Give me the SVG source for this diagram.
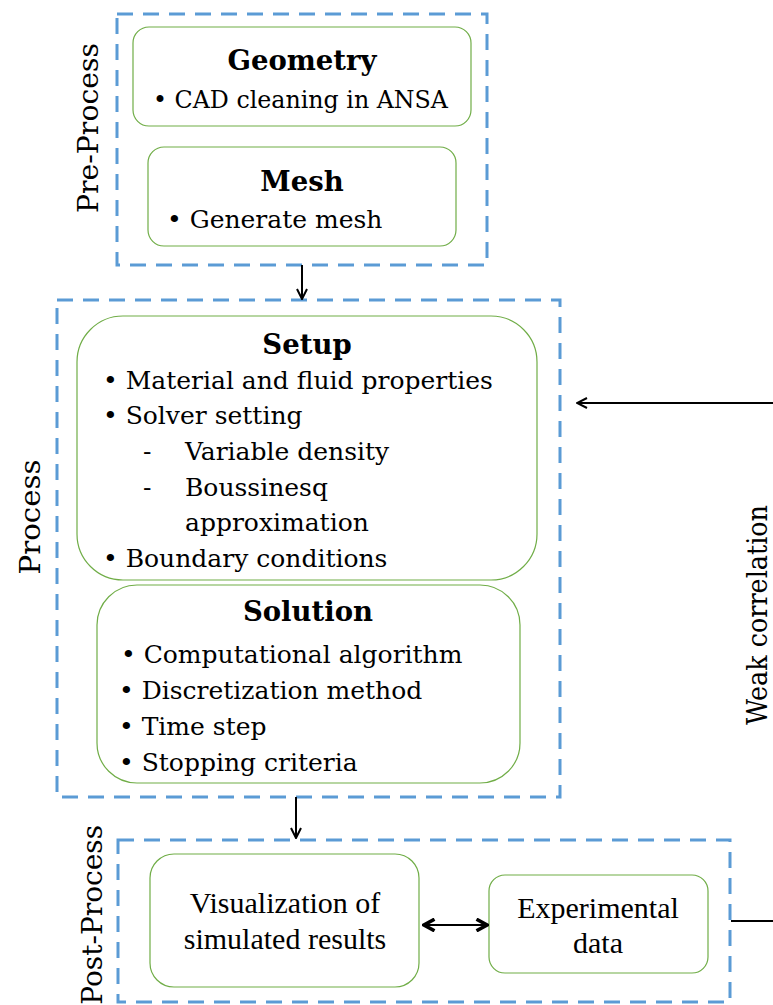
<svg xmlns="http://www.w3.org/2000/svg" width="773" height="1005" viewBox="0 0 773 1005">
<defs>
<style>
.grp{fill:none;stroke:#5B9BD5;stroke-width:3;stroke-dasharray:16 10}
.box{fill:#fff;stroke:#70AD47;stroke-width:1.2}
.t{font-family:"DejaVu Serif","Liberation Serif",serif;font-size:25px;fill:#000}
.h{font-family:"DejaVu Serif","Liberation Serif",serif;font-size:27.5px;font-weight:bold;fill:#000;text-anchor:middle}
.lab{font-family:"DejaVu Serif","Liberation Serif",serif;font-size:28px;fill:#000}
.pp{font-family:"Liberation Serif",serif;font-size:30px;fill:#000;text-anchor:middle}
.ln{fill:none;stroke:#000;stroke-width:2}
</style>
<marker id="ah" viewBox="0 0 12 12" refX="11" refY="6" markerWidth="12" markerHeight="12" markerUnits="userSpaceOnUse" orient="auto">
<path d="M1,1 L11,6 L1,11" fill="none" stroke="#000" stroke-width="2"/>
</marker>
<marker id="ah2" viewBox="0 0 12 12" refX="10" refY="6" markerWidth="14" markerHeight="14" markerUnits="userSpaceOnUse" orient="auto-start-reverse">
<path d="M1,1 L10,6 L1,11" fill="none" stroke="#000" stroke-width="3"/>
</marker>
</defs>

<g id="pre-process">
<rect class="grp" x="117" y="14" width="370" height="251"/>
<text class="lab" transform="translate(98,128) rotate(-90)" text-anchor="middle" textLength="170" lengthAdjust="spacingAndGlyphs">Pre-Process</text>
</g>
<g id="geometry">
<rect class="box" x="133" y="27" width="338" height="99" rx="16"/>
<text class="h" x="302" y="70">Geometry</text>
<text class="t" x="153" y="108" textLength="295" lengthAdjust="spacingAndGlyphs">• CAD cleaning in ANSA</text>
</g>
<g id="mesh">
<rect class="box" x="148" y="147" width="308" height="99" rx="16"/>
<text class="h" x="302" y="191">Mesh</text>
<text class="t" x="167" y="228">• Generate mesh</text>
</g>

<g id="process">
<rect class="grp" x="57" y="300" width="503" height="497"/>
<text class="lab" transform="translate(40,517) rotate(-90)" text-anchor="middle" textLength="115" lengthAdjust="spacingAndGlyphs">Process</text>
</g>
<g id="setup">
<rect class="box" x="77" y="316" width="460" height="264" rx="46"/>
<text class="h" x="307" y="354">Setup</text>
<text class="t" x="103" y="389">• Material and fluid properties</text>
<text class="t" x="103" y="424">• Solver setting</text>
<text class="t" x="143" y="460">-</text>
<text class="t" x="185" y="460">Variable density</text>
<text class="t" x="143" y="496">-</text>
<text class="t" x="185" y="496">Boussinesq</text>
<text class="t" x="185" y="531">approximation</text>
<text class="t" x="103" y="567">• Boundary conditions</text>
</g>
<g id="solution">
<rect class="box" x="97" y="585" width="423" height="198" rx="40"/>
<text class="h" x="308" y="621">Solution</text>
<text class="t" x="121" y="663">• Computational algorithm</text>
<text class="t" x="119" y="699">• Discretization method</text>
<text class="t" x="119" y="735">• Time step</text>
<text class="t" x="119" y="771">• Stopping criteria</text>
</g>

<g id="post-process">
<rect class="grp" x="118" y="840" width="612" height="162"/>
<text class="lab" transform="translate(102,825) rotate(-90)" text-anchor="end">Post-Process</text>
</g>
<g id="visualization">
<rect class="box" x="150" y="854" width="269" height="133" rx="24"/>
<text class="pp" x="285" y="913">Visualization of</text>
<text class="pp" x="285" y="949">simulated results</text>
</g>
<g id="experimental">
<rect class="box" x="489" y="875" width="219" height="98" rx="16"/>
<text class="pp" x="598" y="918">Experimental</text>
<text class="pp" x="598" y="953">data</text>
</g>

<g id="weak-label">
<text class="lab" transform="translate(767,615) rotate(-90)" text-anchor="middle" textLength="220" lengthAdjust="spacingAndGlyphs">Weak correlation</text>
</g>

<g id="connectors">
<line class="ln" x1="302" y1="265" x2="302" y2="299" marker-end="url(#ah)"/>
<line class="ln" x1="296" y1="797" x2="296" y2="838" marker-end="url(#ah)"/>
<line class="ln" x1="424" y1="925" x2="487" y2="925" stroke-width="3" marker-start="url(#ah2)" marker-end="url(#ah2)"/>
<line class="ln" x1="731" y1="921" x2="773" y2="921" stroke-width="3"/>
<line class="ln" x1="773" y1="403" x2="577" y2="403" marker-end="url(#ah)"/>
</g>
</svg>
